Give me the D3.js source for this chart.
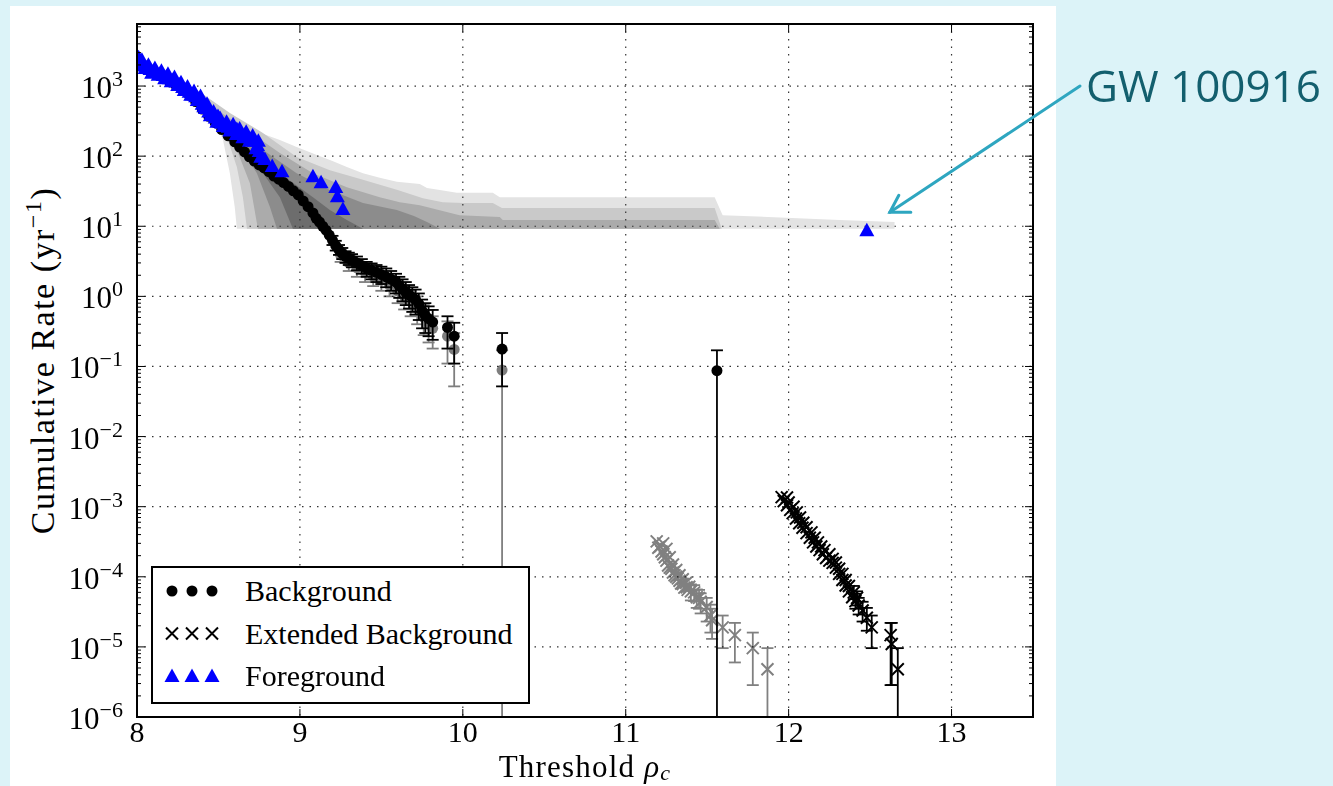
<!DOCTYPE html>
<html>
<head>
<meta charset="utf-8">
<script src="https://cdn.jsdelivr.net/npm/d3@7"></script>
<style>
body { margin: 0; background: #dcf3f8; }
.tickLabel { font-family: "Liberation Serif", serif; font-size: 31px; fill: #000; }
</style>
</head>
<body>
<div class="chartDiv"></div>
<script>
// tick values
var xTicks = [8, 9, 10, 11, 12, 13];
var yExponents = [-6, -5, -4, -3, -2, -1, 0, 1, 2, 3];
var legendLabels = ["Background", "Extended Background", "Foreground"];
var eventName = "GW 100916";

// [rho, rate]
var foreground = [
    [8.00, 2200], [8.01, 2500], [8.02, 2050], [8.03, 2300], [8.04, 1900], [8.05, 1750],
    [8.06, 1780], [8.07, 1950], [8.08, 1690], [8.09, 1500], [8.10, 1600], [8.11, 1750],
    [8.12, 1530], [8.13, 1400], [8.14, 1450], [8.15, 1600], [8.16, 1390], [8.17, 1250],
    [8.18, 1320], [8.19, 1450], [8.20, 1250], [8.21, 1130], [8.22, 1180], [8.23, 1300],
    [8.24, 1120], [8.25, 1000], [8.26, 1020], [8.27, 1100], [8.28, 935], [8.29, 850],
    [8.30, 860], [8.31, 950], [8.32, 800], [8.33, 730], [8.34, 740], [8.35, 820],
    [8.36, 690], [8.37, 610], [8.38, 620], [8.39, 700], [8.40, 540], [8.41, 500],
    [8.42, 470], [8.43, 540], [8.44, 420], [8.45, 370], [8.46, 380], [8.47, 420],
    [8.48, 345], [8.49, 300], [8.497, 361], [8.50, 320], [8.51, 340], [8.52, 290],
    [8.53, 260], [8.54, 270], [8.55, 300], [8.56, 255], [8.57, 225], [8.58, 245],
    [8.59, 275], [8.60, 230], [8.61, 200], [8.613, 236], [8.62, 215], [8.63, 240],
    [8.64, 205], [8.65, 180], [8.66, 195], [8.67, 215], [8.675, 187], [8.68, 185],
    [8.69, 160], [8.70, 170], [8.71, 190], [8.72, 160], [8.73, 125], [8.74, 140],
    [8.745, 160], [8.75, 115], [8.76, 95], [8.785, 88], [8.83, 70], [8.89, 59],
    [9.08, 50], [9.13, 41], [9.22, 35], [9.23, 26], [9.264, 17], [12.48, 8.5]
];

// [rho, rate, lower, upper]
var background = [
    [8.00, 2150], [8.04, 1850], [8.08, 1620], [8.12, 1450], [8.16, 1300], [8.20, 1150],
    [8.24, 1020], [8.28, 880], [8.32, 740], [8.36, 600], [8.40, 470], [8.44, 370],
    [8.48, 300], [8.52, 240], [8.56, 195], [8.60, 160], [8.63, 135], [8.66, 115],
    [8.69, 98], [8.72, 85], [8.75, 75], [8.78, 68], [8.81, 60], [8.84, 52],
    [8.87, 47], [8.90, 42], [8.93, 37], [8.96, 32], [8.99, 28], [9.02, 23],
    [9.05, 19], [9.08, 15.5], [9.10, 13], [9.12, 11.5], [9.14, 10], [9.16, 8.8],
    [9.18, 7.5], [9.20, 6.3, 5.4, 7.3], [9.22, 5.3, 4.5, 6.2], [9.24, 4.6, 3.9, 5.4],
    [9.26, 4.1, 3.4, 4.9], [9.28, 3.7, 3.0, 4.4], [9.30, 3.5, 2.8, 4.2], [9.32, 3.3, 2.6, 4.0],
    [9.35, 3.0, 2.35, 3.7], [9.38, 2.75, 2.1, 3.4], [9.41, 2.5, 1.9, 3.1], [9.44, 2.35, 1.75, 2.95],
    [9.47, 2.2, 1.6, 2.8], [9.50, 2.05, 1.5, 2.65], [9.53, 1.9, 1.35, 2.5], [9.56, 1.75, 1.2, 2.3],
    [9.59, 1.6, 1.1, 2.1], [9.61, 1.42, 0.95, 1.9], [9.63, 1.28, 0.85, 1.75], [9.65, 1.15, 0.75, 1.6],
    [9.67, 1.05, 0.67, 1.45], [9.69, 0.97, 0.6, 1.35], [9.71, 0.9, 0.55, 1.25], [9.73, 0.78, 0.46, 1.1],
    [9.75, 0.62, 0.35, 0.9], [9.77, 0.53, 0.3, 0.8], [9.79, 0.48, 0.27, 0.72], [9.815, 0.43, 0.24, 0.64],
    [9.906, 0.36, 0.18, 0.52], [9.947, 0.27, 0.11, 0.42], [10.241, 0.177, 0.052, 0.30],
    [11.56, 0.087, 0, 0.17]
];

// second (lighter) background estimate
var backgroundAlt = [
    [9.25, 3.9, 3.1, 4.7], [9.30, 3.0, 2.3, 3.7], [9.35, 2.55, 1.9, 3.2], [9.40, 2.2, 1.6, 2.8],
    [9.45, 1.95, 1.4, 2.5], [9.50, 1.7, 1.2, 2.25], [9.55, 1.45, 1.0, 1.95], [9.60, 1.2, 0.8, 1.65],
    [9.64, 1.0, 0.65, 1.4], [9.68, 0.85, 0.52, 1.2], [9.72, 0.68, 0.4, 1.0], [9.76, 0.5, 0.28, 0.75],
    [9.79, 0.42, 0.22, 0.64], [9.815, 0.35, 0.18, 0.52], [9.906, 0.27, 0.11, 0.44],
    [9.947, 0.175, 0.052, 0.30], [10.241, 0.089, 0, 0.17]
];

var extendedAlt = [
    [11.19, 3.2e-4], [11.20, 2.6e-4], [11.21, 2.7e-4], [11.22, 2.3e-4], [11.23, 2.1e-4],
    [11.23, 3.0e-4], [11.24, 1.9e-4], [11.25, 1.7e-4], [11.25, 2.5e-4], [11.26, 1.45e-4],
    [11.27, 1.35e-4], [11.27, 1.9e-4], [11.28, 1.3e-4], [11.29, 1.15e-4], [11.29, 1.5e-4],
    [11.30, 1.05e-4], [11.31, 1.0e-4], [11.31, 1.25e-4], [11.32, 9.5e-5], [11.33, 8.8e-5],
    [11.33, 1.05e-4], [11.34, 8.0e-5], [11.35, 7.9e-5], [11.35, 9.2e-5], [11.36, 7.0e-5],
    [11.37, 8.2e-5], [11.374, 7.1e-5], [11.38, 6.5e-5], [11.39, 7.2e-5],
    [11.40, 6.2e-5, 4.6e-5, 7.8e-5], [11.42, 6.0e-5, 4.5e-5, 7.6e-5], [11.436, 5.1e-5, 3.6e-5, 6.6e-5],
    [11.45, 5.0e-5, 3.5e-5, 6.5e-5], [11.46, 4.4e-5, 3.0e-5, 5.8e-5],
    [11.497, 3.7e-5, 2.3e-5, 5.0e-5], [11.52, 2.8e-5, 1.6e-5, 4.0e-5], [11.53, 2.4e-5, 1.3e-5, 3.5e-5],
    [11.595, 1.9e-5, 9.6e-6, 2.8e-5], [11.67, 1.47e-5, 6.0e-6, 2.2e-5],
    [11.78, 9.6e-6, 2.85e-6, 1.6e-5], [11.87, 4.8e-6, 0, 9.6e-6]
];

var extended = [
    [11.957, 1.37e-3], [11.97, 1.2e-3], [11.99, 1.35e-3], [11.99, 1.05e-3], [12.00, 1.15e-3],
    [12.01, 9e-4], [12.025, 8.1e-4], [12.03, 1.0e-3], [12.045, 6.8e-4], [12.05, 8.3e-4],
    [12.065, 5.8e-4], [12.07, 7.0e-4], [12.085, 5.0e-4], [12.09, 5.9e-4], [12.11, 4.2e-4],
    [12.11, 5.1e-4], [12.13, 3.6e-4], [12.14, 4.3e-4], [12.15, 3.1e-4], [12.16, 3.6e-4],
    [12.17, 2.7e-4], [12.18, 3.1e-4], [12.19, 2.4e-4], [12.20, 2.7e-4], [12.21, 2.1e-4],
    [12.22, 2.4e-4], [12.23, 1.85e-4], [12.25, 1.7e-4], [12.25, 2.1e-4], [12.27, 1.58e-4],
    [12.27, 1.8e-4], [12.29, 1.35e-4], [12.29, 1.6e-4], [12.31, 1.1e-4], [12.31, 1.3e-4],
    [12.33, 9.0e-5], [12.33, 1.1e-4], [12.35, 7.5e-5], [12.35, 9.0e-5], [12.37, 6.2e-5],
    [12.37, 7.4e-5], [12.39, 5.1e-5], [12.40, 6.0e-5, 4.8e-5, 7.4e-5], [12.42, 5.0e-5, 3.9e-5, 6.2e-5],
    [12.41, 4.5e-5, 3.5e-5, 5.7e-5], [12.43, 3.9e-5, 2.9e-5, 5.0e-5], [12.454, 3.3e-5, 2.3e-5, 4.4e-5],
    [12.48, 2.6e-5, 1.7e-5, 3.6e-5], [12.51, 1.9e-5, 9.6e-6, 2.8e-5],
    [12.626, 1.47e-5, 2.85e-6, 2.2e-5], [12.633, 1.1e-5, 2.85e-6, 2.2e-5], [12.67, 4.8e-6, 0, 9.6e-6]
];

// expected-background bands, outermost first
var floorRate = 9.2;
var bandUpper = [
    [[8.0, 2200], [8.16, 1550], [8.28, 1220], [8.37, 800], [8.466, 501], [8.57, 340], [8.675, 260],
     [8.78, 205], [8.877, 170], [8.98, 135], [9.104, 104], [9.2, 85], [9.288, 70], [9.387, 57],
     [9.49, 49], [9.595, 43], [9.736, 40], [9.78, 35], [9.859, 33], [9.963, 30], [10.184, 30],
     [10.227, 26], [11.546, 26], [11.595, 14.4], [12.313, 12.3], [12.65, 11.5]],
    [[8.0, 2200], [8.16, 1450], [8.368, 877], [8.57, 412], [8.773, 214], [8.98, 97], [9.184, 63],
     [9.387, 46], [9.6, 33], [9.755, 25], [9.877, 22], [10.0, 21.4], [10.184, 21.4], [10.24, 18.2],
     [11.546, 18.2], [11.589, 9.2]],
    [[8.0, 2200], [8.2, 1250], [8.466, 501], [8.675, 236], [8.877, 111], [9.08, 57], [9.288, 36],
     [9.49, 26], [9.613, 22], [9.736, 20], [9.98, 14.4], [10.227, 13.5], [10.245, 12.3],
     [11.546, 12.3], [11.577, 9.2]],
    [[8.0, 2200], [8.3, 900], [8.57, 260], [8.773, 122], [8.98, 57], [9.184, 33], [9.387, 21.4],
     [9.595, 17], [9.70, 14], [9.78, 11.5], [9.86, 9.2]],
    [[8.0, 2200], [8.35, 650], [8.693, 122], [8.877, 57], [9.08, 26], [9.184, 17], [9.288, 12.3],
     [9.387, 9.2]]
];
var bandLower = [
    [[8.0, 2200], [8.16, 1300], [8.368, 697], [8.466, 361], [8.528, 170], [8.57, 57], [8.60, 18.8], [8.613, 9.2]],
    [[8.0, 2200], [8.2, 1200], [8.43, 501], [8.552, 187], [8.613, 70], [8.65, 26], [8.675, 9.2]],
    [[8.0, 2200], [8.25, 1000], [8.51, 297], [8.613, 122], [8.693, 41], [8.742, 9.2]],
    [[8.0, 2200], [8.3, 850], [8.632, 135], [8.736, 57], [8.816, 18.8], [8.859, 9.2]],
    [[8.0, 2200], [8.35, 600], [8.773, 57], [8.877, 26], [8.957, 9.2]]
];
var bandColors = ["#e3e3e3", "#c9c9c9", "#ababab", "#8c8c8c", "#6d6d6d"];

var width = 1333, height = 786;
var plotLeft = 137, plotRight = 1033, plotTop = 24, plotBottom = 717;

var svg = d3.select(".chartDiv").append("svg")
    .attr("width", width)
    .attr("height", height)
    .style("display", "block");

// white figure panel
svg.append("rect")
    .attr("x", 10)
    .attr("y", 6)
    .attr("width", 1046)
    .attr("height", 780)
    .attr("fill", "white");

var x = d3.scaleLinear().domain([8, 13.5]).range([plotLeft, plotRight]);
var y = d3.scaleLog().domain([1e-6, Math.pow(10, 3.885)]).range([plotBottom, plotTop]);

svg.append("clipPath").attr("id", "plotClip")
    .append("rect")
    .attr("x", plotLeft).attr("y", plotTop)
    .attr("width", plotRight - plotLeft).attr("height", plotBottom - plotTop);

var plot = svg.append("g").attr("clip-path", "url(#plotClip)");

// bands
var bandLine = d3.line().x(function(d){ return x(d[0]); }).y(function(d){ return y(d[1]); });
bandUpper.forEach(function(up, i){
    var low = bandLower[i];
    var endX = up[up.length - 1][0];
    var pts = up.concat([[endX, floorRate]]).concat(low.slice().reverse());
    plot.append("path")
        .attr("d", bandLine(pts) + "Z")
        .attr("fill", bandColors[i])
        .attr("stroke", "none");
});

// grid
plot.selectAll(".vgrid").data(xTicks).enter().append("line")
    .attr("x1", function(d){ return x(d); })
    .attr("x2", function(d){ return x(d); })
    .attr("y1", plotTop).attr("y2", plotBottom)
    .attr("stroke", "#333").attr("stroke-width", 1.2)
    .attr("stroke-dasharray", "1.5,6");
plot.selectAll(".hgrid").data(yExponents).enter().append("line")
    .attr("y1", function(d){ return y(Math.pow(10, d)); })
    .attr("y2", function(d){ return y(Math.pow(10, d)); })
    .attr("x1", plotLeft).attr("x2", plotRight)
    .attr("stroke", "#333").attr("stroke-width", 1.2)
    .attr("stroke-dasharray", "1.5,6");

function errorBars(g, data, color){
    var withErr = data.filter(function(d){ return d.length > 2; });
    withErr.forEach(function(d){
        var cx = x(d[0]);
        var yHi = y(d[3]);
        var yLo = d[2] > 0 ? y(d[2]) : plotBottom + 5;
        g.append("line")
            .attr("x1", cx).attr("x2", cx)
            .attr("y1", yLo).attr("y2", yHi)
            .attr("stroke", color).attr("stroke-width", 1.8);
        g.append("line")
            .attr("x1", cx - 6).attr("x2", cx + 6)
            .attr("y1", yHi).attr("y2", yHi)
            .attr("stroke", color).attr("stroke-width", 1.8);
        if (d[2] > 0) {
            g.append("line")
                .attr("x1", cx - 6).attr("x2", cx + 6)
                .attr("y1", yLo).attr("y2", yLo)
                .attr("stroke", color).attr("stroke-width", 1.8);
        }
    });
}

var crossPath = "M-6,-6L6,6M-6,6L6,-6";
var triPath = "M0,-8.5L7.5,5L-7.5,5Z";

// lighter background estimate
var altG = plot.append("g").attr("opacity", 0.5);
errorBars(altG, backgroundAlt, "#000");
altG.selectAll("circle").data(backgroundAlt).enter().append("circle")
    .attr("cx", function(d){ return x(d[0]); })
    .attr("cy", function(d){ return y(d[1]); })
    .attr("r", 5.5)
    .attr("fill", "#000");

var extAltG = plot.append("g").attr("opacity", 0.5);
errorBars(extAltG, extendedAlt, "#000");
extAltG.selectAll("path").data(extendedAlt).enter().append("path")
    .attr("d", crossPath)
    .attr("transform", function(d){ return "translate(" + x(d[0]) + "," + y(d[1]) + ")"; })
    .attr("stroke", "#000").attr("stroke-width", 2).attr("fill", "none");

// background
var bgG = plot.append("g");
errorBars(bgG, background, "#000");
bgG.selectAll("circle").data(background).enter().append("circle")
    .attr("cx", function(d){ return x(d[0]); })
    .attr("cy", function(d){ return y(d[1]); })
    .attr("r", 5.5)
    .attr("fill", "#000");

// extended background
var extG = plot.append("g");
errorBars(extG, extended, "#000");
extG.selectAll("path").data(extended).enter().append("path")
    .attr("d", crossPath)
    .attr("transform", function(d){ return "translate(" + x(d[0]) + "," + y(d[1]) + ")"; })
    .attr("stroke", "#000").attr("stroke-width", 2).attr("fill", "none");

// foreground
plot.append("g").selectAll("path").data(foreground).enter().append("path")
    .attr("d", triPath)
    .attr("transform", function(d){ return "translate(" + x(d[0]) + "," + y(d[1]) + ")"; })
    .attr("fill", "#0000ff");

// frame
svg.append("rect")
    .attr("x", plotLeft).attr("y", plotTop)
    .attr("width", plotRight - plotLeft).attr("height", plotBottom - plotTop)
    .attr("fill", "none").attr("stroke", "#000").attr("stroke-width", 2);

// x ticks
xTicks.forEach(function(t){
    svg.append("line").attr("x1", x(t)).attr("x2", x(t)).attr("y1", plotBottom).attr("y2", plotBottom - 8)
        .attr("stroke", "#000").attr("stroke-width", 1);
    svg.append("line").attr("x1", x(t)).attr("x2", x(t)).attr("y1", plotTop).attr("y2", plotTop + 8)
        .attr("stroke", "#000").attr("stroke-width", 1);
    svg.append("text").attr("class", "tickLabel")
        .style("font-size", "30px")
        .attr("x", x(t)).attr("y", plotBottom + 25)
        .attr("text-anchor", "middle")
        .text(t);
});

// y ticks, major and minor
yExponents.forEach(function(e){
    var v = Math.pow(10, e);
    [plotLeft, plotRight].forEach(function(sx){
        var dir = sx === plotLeft ? 1 : -1;
        svg.append("line").attr("x1", sx).attr("x2", sx + dir * 8)
            .attr("y1", y(v)).attr("y2", y(v))
            .attr("stroke", "#000").attr("stroke-width", 1);
        for (var m = 2; m <= 9; m++) {
            var mv = v * m;
            if (mv > y.domain()[1]) break;
            svg.append("line").attr("x1", sx).attr("x2", sx + dir * 4)
                .attr("y1", y(mv)).attr("y2", y(mv))
                .attr("stroke", "#000").attr("stroke-width", 1);
        }
    });
    var lbl = svg.append("text").attr("class", "tickLabel")
        .attr("x", 123).attr("y", y(v) + 12)
        .attr("text-anchor", "end");
    lbl.append("tspan").text("10");
    lbl.append("tspan").attr("dy", -12).attr("font-size", "22px")
        .text(e < 0 ? "\u2212" + Math.abs(e) : String(e));
});

// axis labels
var xl = svg.append("text").attr("class", "tickLabel")
    .style("font-size", "31px").style("letter-spacing", "1.2px")
    .attr("x", (plotLeft + plotRight) / 2).attr("y", 777)
    .attr("text-anchor", "middle");
xl.append("tspan").text("Threshold ");
xl.append("tspan").attr("font-style", "italic").text("\u03c1");
xl.append("tspan").attr("font-style", "italic").attr("font-size", "22px").attr("dy", 3).text("c");

var yl = svg.append("text").attr("class", "tickLabel")
    .style("font-size", "34px").style("letter-spacing", "1.5px")
    .attr("transform", "translate(54," + ((plotTop + plotBottom) / 2 - 10) + ") rotate(-90)")
    .attr("text-anchor", "middle");
yl.append("tspan").text("Cumulative Rate (yr");
yl.append("tspan").attr("font-size", "24px").attr("dy", -13).text("\u22121");
yl.append("tspan").attr("dy", 13).text(")");

// legend
var lg = svg.append("g");
lg.append("rect")
    .attr("x", 152).attr("y", 567)
    .attr("width", 377).attr("height", 136)
    .attr("fill", "white").attr("stroke", "#000").attr("stroke-width", 2);
var markX = [172, 192, 212];
legendLabels.forEach(function(name, i){
    var ry = 591 + i * 42.5;
    markX.forEach(function(mx){
        if (i === 0) {
            lg.append("circle").attr("cx", mx).attr("cy", ry).attr("r", 5.5).attr("fill", "#000");
        } else if (i === 1) {
            lg.append("path").attr("d", crossPath).attr("transform", "translate(" + mx + "," + ry + ")")
                .attr("stroke", "#000").attr("stroke-width", 2).attr("fill", "none");
        } else {
            lg.append("path").attr("d", triPath).attr("transform", "translate(" + mx + "," + (ry + 1) + ")")
                .attr("fill", "#0000ff");
        }
    });
    lg.append("text").attr("class", "tickLabel")
        .style("font-size", "30px")
        .attr("x", 245).attr("y", ry + 10)
        .text(name);
});

// annotation
var gw = foreground[foreground.length - 1];
var tipX = x(gw[0]) + 23, tipY = y(gw[1]) - 19;
var arrow = svg.append("g").attr("stroke", "#2ea6c0").attr("stroke-width", 3)
    .attr("fill", "none").attr("stroke-linecap", "round");
arrow.append("line").attr("x1", 1080).attr("y1", 86).attr("x2", tipX).attr("y2", tipY);
arrow.append("polyline")
    .attr("points", (tipX + 9) + "," + (tipY - 17) + " " + tipX + "," + tipY + " " + (tipX + 21) + "," + tipY);
svg.append("text")
    .attr("x", 1086).attr("y", 102)
    .attr("font-family", "'Open Sans', sans-serif")
    .attr("font-size", "44px")
    .attr("fill", "#135f6e")
    .text(eventName);
</script>
</body>
</html>
